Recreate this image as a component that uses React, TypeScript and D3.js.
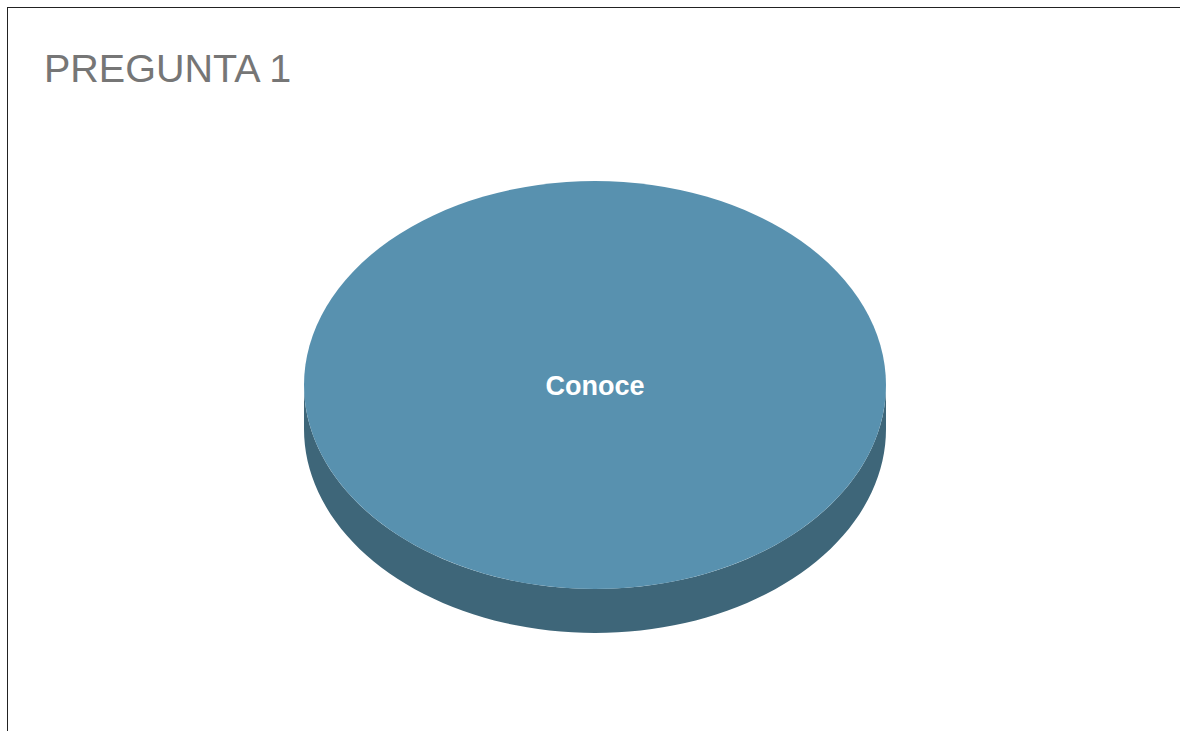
import React from "react";
import * as d3 from "d3";

const categories: string[] = ["Conoce"];
const values: number[] = [100];
const topColors: string[] = ["#5891AF"];
const sideColors: string[] = ["#3E6679"];
const title = "PREGUNTA 1";

const W = 1180;
const H = 731;
const cx = 595;
const cy = 385;
const rx = 291;
const ry = 204;
const depth = 44;

type Datum = { name: string; value: number; top: string; side: string };

const data: Datum[] = categories.map((c, i) => ({
  name: c,
  value: values[i],
  top: topColors[i],
  side: sideColors[i],
}));

function pt(a: number, r: number, dy = 0): [number, number] {
  return [cx + rx * r * Math.sin(a), cy - ry * r * Math.cos(a) + dy];
}

function sidePath(a0: number, a1: number): string | null {
  const s = Math.max(a0, Math.PI / 2);
  const e = Math.min(a1, (3 * Math.PI) / 2);
  if (e <= s) return null;
  const n = 80;
  const top: [number, number][] = [];
  const bot: [number, number][] = [];
  for (let i = 0; i <= n; i++) {
    const a = s + ((e - s) * i) / n;
    top.push(pt(a, 1));
    bot.push(pt(a, 1, depth));
  }
  const all = top.concat(bot.reverse());
  return d3.line()(all) + "Z";
}

export default function App() {
  const pie = d3
    .pie<Datum>()
    .value((d) => d.value)
    .sort(null);
  const arcs = pie(data);
  const arcGen = d3.arc<d3.PieArcDatum<Datum>>().innerRadius(0).outerRadius(rx);

  return (
    <svg
      width={W}
      height={H}
      style={{ position: "absolute", left: 0, top: 0, background: "#fff" }}
    >
      <rect x={7.5} y={7.5} width={W + 20} height={H + 20} fill="#fff" stroke="#222" strokeWidth={1} />
      <text
        x={44}
        y={82}
        fontFamily="'Liberation Sans', Arial, sans-serif"
        fontSize={39.5}
        fill="#767676"
      >
        {title}
      </text>
      <g>
        {arcs.map((a, i) => {
          const p = sidePath(a.startAngle, a.endAngle);
          return p ? <path key={"s" + i} d={p} fill={a.data.side} /> : null;
        })}
        <g transform={`translate(${cx},${cy}) scale(1,${ry / rx})`}>
          {arcs.map((a, i) => (
            <path key={"t" + i} d={arcGen(a) || ""} fill={a.data.top} />
          ))}
        </g>
        {arcs.map((a, i) => {
          const full = a.endAngle - a.startAngle >= 2 * Math.PI - 1e-6;
          const c = full ? [0, 0] : arcGen.centroid(a);
          return (
            <text
              key={"l" + i}
              x={cx + c[0]}
              y={cy + c[1] * (ry / rx) + 10}
              textAnchor="middle"
              fontFamily="'Liberation Sans', Arial, sans-serif"
              fontWeight="bold"
              fontSize={27}
              fill="#fff"
            >
              {a.data.name}
            </text>
          );
        })}
      </g>
    </svg>
  );
}
